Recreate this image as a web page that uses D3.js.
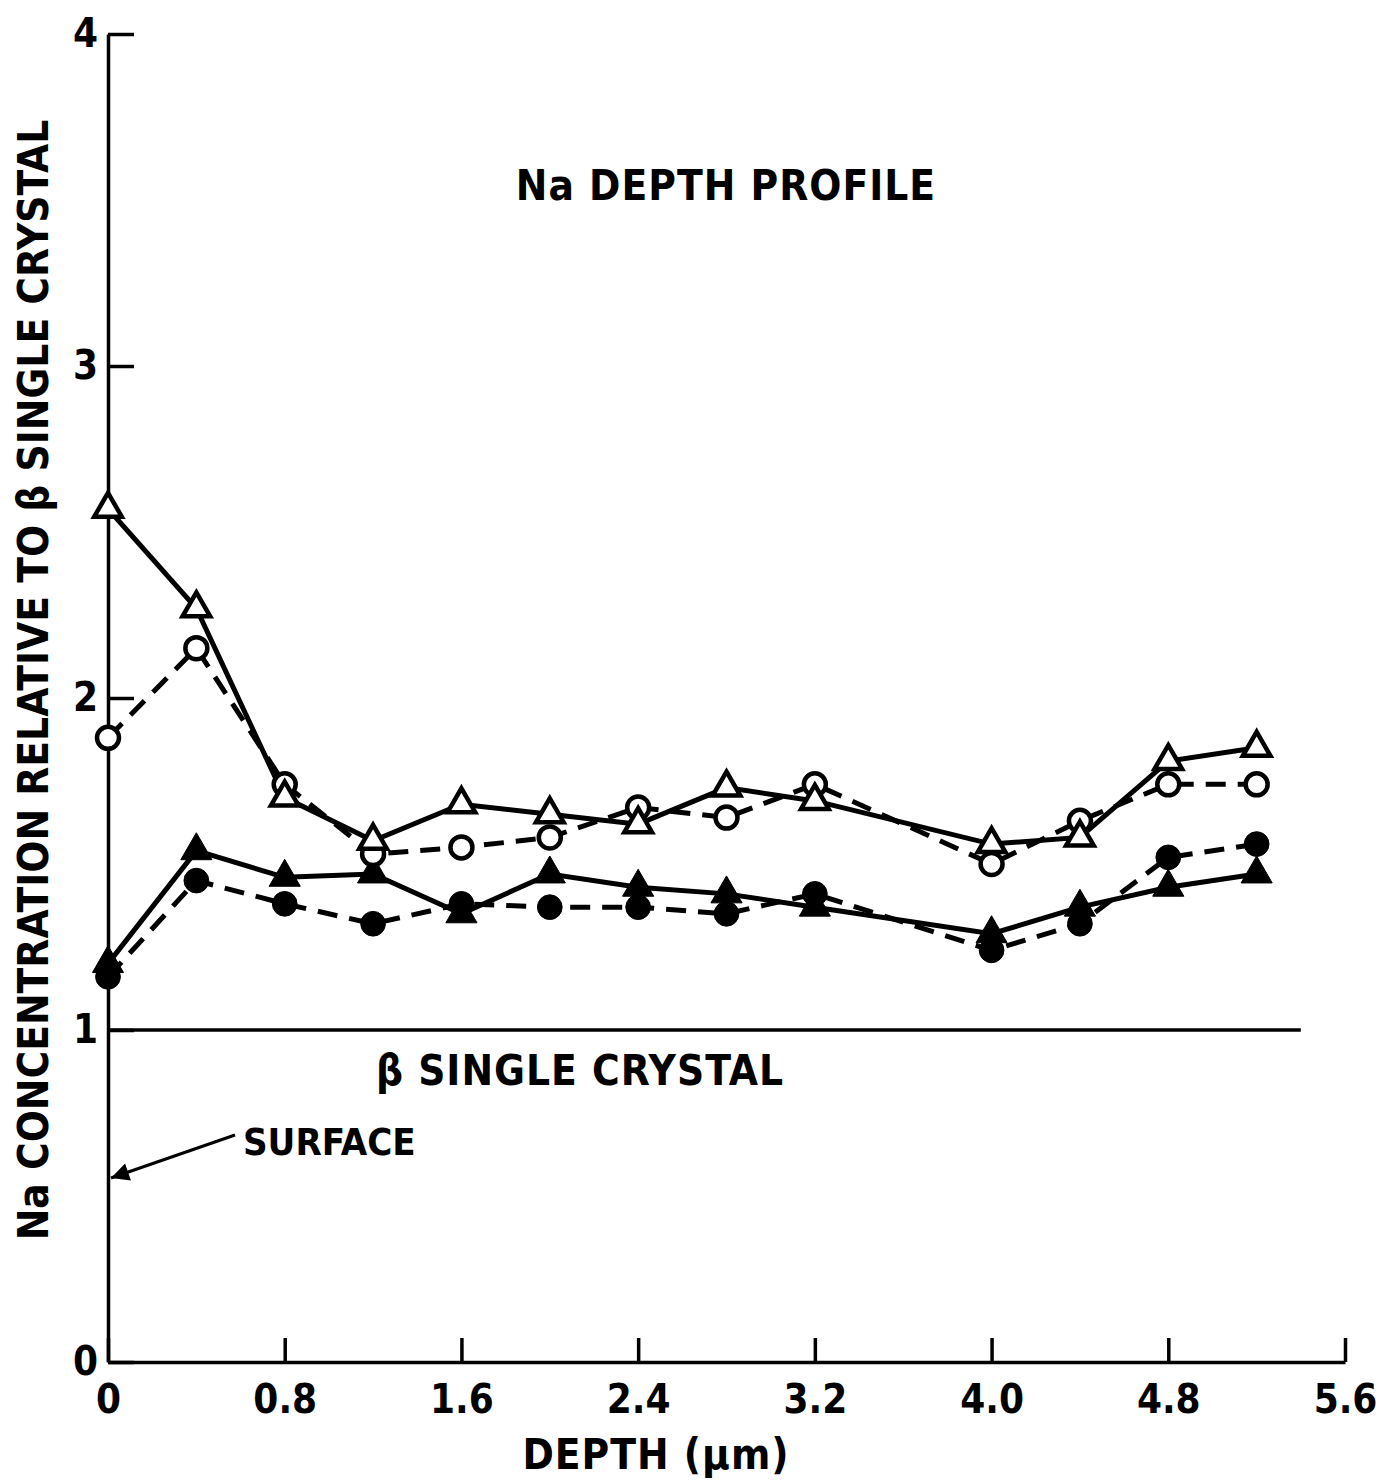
<!DOCTYPE html>
<html>
<head>
<meta charset="utf-8">
<script src="https://cdn.jsdelivr.net/npm/d3@7"></script>
<style>
  body { margin: 0; background: #fff; }
  text { font-family: "DejaVu Sans Condensed", "DejaVu Sans", sans-serif; font-stretch: condensed; font-weight: bold; fill: #000; }
</style>
</head>
<body>
<svg id="chart" width="1386" height="1483"></svg>
<script>
// depth (um) at each measurement
var depth = [0, 0.4, 0.8, 1.2, 1.6, 2.0, 2.4, 2.8, 3.2, 4.0, 4.4, 4.8, 5.2];
// four profiles
var openTri   = [2.57, 2.27, 1.70, 1.57, 1.68, 1.65, 1.62, 1.73, 1.69, 1.56, 1.58, 1.81, 1.85];
var openCirc  = [1.88, 2.15, 1.74, 1.53, 1.55, 1.58, 1.67, 1.64, 1.74, 1.50, 1.63, 1.74, 1.74];
var fillTri   = [1.20, 1.54, 1.46, 1.47, 1.35, 1.47, 1.43, 1.41, 1.37, 1.29, 1.37, 1.43, 1.47];
var fillCirc  = [1.16, 1.45, 1.38, 1.32, 1.38, 1.37, 1.37, 1.35, 1.41, 1.24, 1.32, 1.52, 1.56];

var xTicks = [0, 0.8, 1.6, 2.4, 3.2, 4.0, 4.8, 5.6];
var xTickLabels = ["0", "0.8", "1.6", "2.4", "3.2", "4.0", "4.8", "5.6"];
var yTicks = [0, 1, 2, 3, 4];
var refLevel = 1;      // beta single crystal
var refEnd = 5.4;

var svg = d3.select("#chart");

var x = d3.scaleLinear().domain([0, 5.6]).range([108, 1345]);
var y = d3.scaleLinear().domain([0, 4]).range([1362, 34]);

// axes, ticks pointing inward
var xAxis = d3.axisBottom(x).tickValues(xTicks)
  .tickFormat(function(d, i) { return xTickLabels[i]; })
  .tickSizeInner(-24).tickSizeOuter(0).tickPadding(0);
var gx = svg.append("g").attr("transform", "translate(0," + y(0) + ")").call(xAxis);
gx.selectAll("text").attr("y", 51).attr("dy", null).style("font-size", "40px");

var yAxis = d3.axisLeft(y).tickValues(yTicks).tickFormat(d3.format("d"))
  .tickSizeInner(-26).tickSizeOuter(0).tickPadding(0);
var gy = svg.append("g").attr("transform", "translate(" + x(0) + ",0)").call(yAxis);
gy.selectAll("text").attr("x", -10).style("font-size", "40px");

svg.selectAll(".domain, .tick line").attr("stroke", "#000").attr("stroke-width", 3.5);

// reference line
svg.append("line")
  .attr("x1", x(0)).attr("x2", x(refEnd))
  .attr("y1", y(refLevel)).attr("y2", y(refLevel))
  .attr("stroke", "#000").attr("stroke-width", 3.5);

var line = d3.line().x(function(d) { return x(d[0]); }).y(function(d) { return y(d[1]); });

var series = [
  { v: fillTri,  dash: null,    sym: d3.symbolTriangle, filled: true },
  { v: fillCirc, dash: "20,12", sym: d3.symbolCircle,   filled: true },
  { v: openCirc, dash: "20,12", sym: d3.symbolCircle,   filled: false },
  { v: openTri,  dash: null,    sym: d3.symbolTriangle, filled: false }
];

series.forEach(function(s) {
  svg.append("path")
    .datum(d3.zip(depth, s.v))
    .attr("d", line)
    .attr("fill", "none")
    .attr("stroke", "#000")
    .attr("stroke-width", 5)
    .attr("stroke-dasharray", s.dash);
});

series.forEach(function(s) {
  var size = s.sym === d3.symbolCircle ? (s.filled ? 480 : 380) : (s.filled ? 420 : 330);
  svg.append("g").selectAll("path")
    .data(d3.zip(depth, s.v))
    .join("path")
    .attr("transform", function(d) { return "translate(" + x(d[0]) + "," + y(d[1]) + ")"; })
    .attr("d", d3.symbol().type(s.sym).size(size))
    .attr("fill", s.filled ? "#000" : "#fff")
    .attr("stroke", "#000")
    .attr("stroke-width", s.filled ? 1 : 4.5);
});

// labels
svg.append("text").attr("x", 726).attr("y", 200).attr("text-anchor", "middle")
  .style("font-size", "42px").style("letter-spacing", "1px").text("Na DEPTH PROFILE");

svg.append("text").attr("x", 580).attr("y", 1085).attr("text-anchor", "middle")
  .style("font-size", "42px").style("letter-spacing", "1px").text("β SINGLE CRYSTAL");

svg.append("text").attr("x", 243).attr("y", 1155)
  .style("font-size", "38px").text("SURFACE");

// arrow to surface
svg.append("defs").append("marker")
  .attr("id", "arr").attr("viewBox", "0 0 10 10").attr("refX", 10).attr("refY", 5)
  .attr("markerWidth", 8).attr("markerHeight", 6).attr("orient", "auto")
  .append("path").attr("d", "M0,0L10,5L0,10Z").attr("fill", "#000");
svg.append("line")
  .attr("x1", 235).attr("y1", 1135).attr("x2", 111).attr("y2", 1178)
  .attr("stroke", "#000").attr("stroke-width", 3)
  .attr("marker-end", "url(#arr)");

svg.append("text").attr("x", 656).attr("y", 1469).attr("text-anchor", "middle")
  .style("font-size", "42px").style("letter-spacing", "1px").text("DEPTH (μm)");

svg.append("text")
  .attr("transform", "translate(48,680) rotate(-90)")
  .attr("text-anchor", "middle")
  .style("font-size", "42px")
  .text("Na CONCENTRATION RELATIVE TO β SINGLE CRYSTAL");
</script>
</body>
</html>
